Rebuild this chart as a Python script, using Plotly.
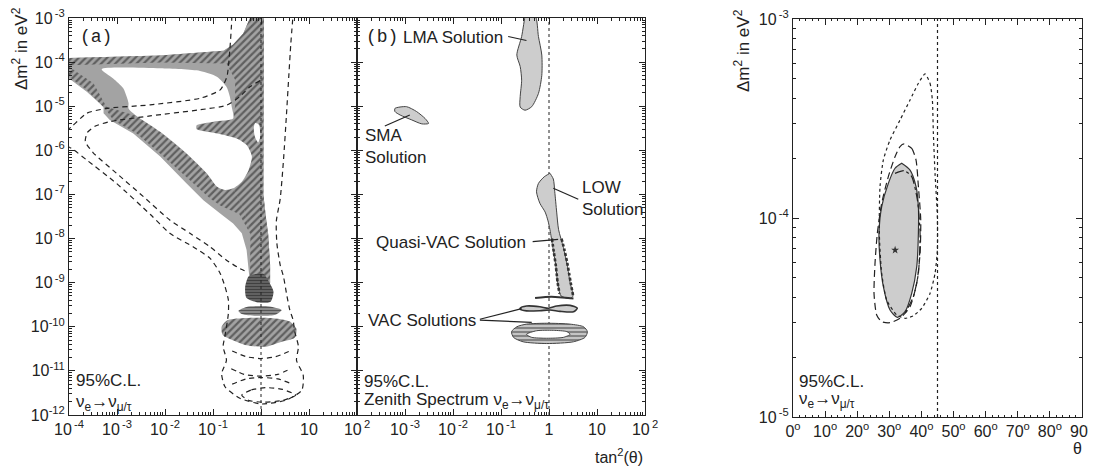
import plotly.graph_objects as go

# ---------------- DATA (log10 of tan^2(theta), log10 of dm^2) ----------------
# Panel (a): combined region (grey), hatched parts, white hole, dashed contours
A_GRAY_LX = [-4.05, -2.10, -0.78, -0.58, -0.37, -0.19, 0.06, 0.06, 0.05, 0.10, 0.15, 0.19, 0.19,
             -0.23, -0.26, -0.30, -0.40, -0.58, -0.85, -1.20, -1.55, -2.10, -2.66, -3.15, -3.28,
             -3.28, -3.63, -4.05]
A_GRAY_LY = [-3.91, -3.85, -3.74, -3.60, -3.35, -2.9, -2.9, -5.0, -7.0, -7.5, -7.9, -8.6, -9.0,
             -9.0, -8.64, -8.26, -7.88, -7.66, -7.43, -7.13, -6.75, -6.14, -5.62, -5.31, -5.16,
             -5.01, -4.67, -4.33]

A_HATCH1_LX = [-4.05, -2.10, -0.78, -0.58, -0.37, -0.19, 0.06, 0.06, 0.05, 0.10, 0.15, 0.19, 0.19,
               -0.23, -0.22, -0.35, -0.58, -0.40, -0.26, -0.19, -0.30, -0.51, -0.99, -1.34, -1.34,
               -0.99, -0.58, -0.54, -0.54, -0.72, -2.10, -3.35, -4.05]
A_HATCH1_LY = [-3.91, -3.85, -3.74, -3.60, -3.35, -2.9, -2.9, -5.0, -7.0, -7.5, -7.9, -8.6, -9.0,
               -9.0, -7.9, -7.35, -6.86, -6.71, -6.45, -6.14, -5.88, -5.73, -5.60, -5.52, -5.43,
               -5.35, -5.28, -5.0, -4.4, -4.03, -4.01, -4.04, -4.07]

A_HATCH2_LX = [-4.05, -3.49, -3.22, -2.80, -2.59, -2.10, -1.55, -1.13, -0.92, -0.75, -0.58, -0.35,
               -0.22, -0.45, -0.85, -1.06, -1.48, -2.03, -2.59, -3.08, -3.22, -3.63, -4.05]
A_HATCH2_LY = [-4.07, -4.48, -5.01, -5.16, -5.22, -5.58, -6.07, -6.52, -6.82, -6.90, -6.86, -7.35,
               -7.9, -7.45, -7.25, -7.09, -6.67, -6.14, -5.62, -5.31, -5.09, -4.63, -4.29]

A_HOLE_LX = [-3.32, -2.10, -1.27, -0.92, -0.72, -0.65, -0.61, -0.58, -0.99, -1.34, -1.34, -0.99,
             -0.51, -0.30, -0.19, -0.26, -0.40, -0.58, -0.75, -0.92, -1.13, -1.55, -2.10, -2.59,
             -2.76, -2.76, -2.80, -2.87, -3.08]
A_HOLE_LY = [-4.16, -4.14, -4.20, -4.33, -4.56, -4.78, -5.01, -5.28, -5.35, -5.43, -5.52, -5.60,
             -5.73, -5.88, -6.14, -6.45, -6.71, -6.86, -6.90, -6.82, -6.52, -6.07, -5.58, -5.22,
             -5.05, -4.93, -4.78, -4.59, -4.37]

A_NOTCH_LX = [-0.12, -0.04, -0.02, -0.06, -0.13, -0.15]
A_NOTCH_LY = [-5.38, -5.42, -5.72, -5.82, -5.68, -5.48]

A_BLOB1_LX = [-0.25, 0.05, 0.15, 0.26, 0.20, -0.05, -0.30, -0.33]
A_BLOB1_LY = [-8.85, -8.80, -8.95, -9.20, -9.43, -9.45, -9.35, -9.10]
A_BLOB2_LX = [-0.47, -0.30, 0.10, 0.43, 0.30, -0.10, -0.40]
A_BLOB2_LY = [-9.64, -9.55, -9.53, -9.62, -9.73, -9.75, -9.71]
A_BLOB3_LX = [-0.82, -0.70, -0.30, 0.20, 0.60, 0.74, 0.70, 0.40, 0.10, -0.30, -0.60, -0.80]
A_BLOB3_LY = [-10.0, -9.85, -9.80, -9.80, -9.88, -10.05, -10.25, -10.35, -10.45, -10.42, -10.30, -10.18]

A_DASH1_LX = [-4.05, -3.94, -3.63, -3.22, -2.31, -1.27, -0.85, -0.71, -0.65, -0.61, -0.61]
A_DASH1_LY = [-5.55, -5.46, -5.16, -5.05, -4.97, -4.82, -4.63, -4.33, -3.73, -3.05, -2.9]

A_DASH2_LX = [-0.02, -0.23, -0.44, -0.72, -1.27, -2.31, -3.15, -3.45, -3.62, -3.66, -3.50, -3.01,
              -2.45, -1.90, -1.48, -1.06, -0.72, -0.44, -0.30]
A_DASH2_LY = [-4.42, -4.56, -4.78, -4.98, -5.08, -5.22, -5.35, -5.45, -5.60, -5.80, -6.05, -6.52,
              -7.05, -7.58, -7.88, -8.19, -8.49, -8.68, -8.75]

A_DASH3_LX = [-4.05, -3.94, -3.63, -3.01, -2.31, -1.90, -1.41, -1.06, -0.85, -0.75, -0.68, -0.68,
              -0.75, -0.79, -0.72, -0.82, -0.75, -0.44, 0.01, 0.53, 0.85, 0.88, 0.74, 0.78, 0.70,
              0.67, 0.60, 0.53, 0.47, 0.40, 0.33, 0.32, 0.40, 0.47, 0.53, 0.58, 0.62, 0.67]
A_DASH3_LY = [-5.90, -5.96, -6.22, -6.75, -7.45, -7.88, -8.19, -8.45, -8.79, -9.09, -9.39, -9.70,
              -10.2, -10.45, -10.76, -11.06, -11.36, -11.62, -11.75, -11.66, -11.44, -11.10, -10.76,
              -10.45, -10.10, -9.85, -9.62, -9.24, -8.87, -8.60, -8.10, -7.60, -7.10, -6.20, -5.20,
              -4.30, -3.60, -2.9]

A_RING1_LX = [-0.40, -0.20, 0.10, 0.45, 0.72, 0.45, 0.05, -0.25, -0.40]
A_RING1_LY = [-11.55, -11.43, -11.38, -11.42, -11.55, -11.67, -11.71, -11.67, -11.55]
A_ARC1_LX = [-0.62, -0.35, 0.0, 0.35, 0.62]
A_ARC1_LY = [-10.95, -11.08, -11.12, -11.08, -10.95]
A_ARC2_LX = [-0.60, -0.30, 0.0, 0.35, 0.65]
A_ARC2_LY = [-11.30, -11.18, -11.15, -11.18, -11.30]
A_ARC3_LX = [-0.60, -0.30, 0.0, 0.30, 0.60]
A_ARC3_LY = [-10.55, -10.68, -10.72, -10.68, -10.55]

# Panel (b): allowed solutions
B_LMA_LX = [-0.50, -0.29, -0.22, -0.15, -0.15, -0.22, -0.36, -0.50, -0.60, -0.60, -0.57, -0.60,
            -0.67, -0.57, -0.50]
B_LMA_LY = [-2.95, -2.95, -3.42, -3.84, -4.30, -4.71, -5.01, -5.09, -5.02, -4.78, -4.41, -4.10,
            -3.84, -3.42, -2.95]
B_SMA_LX = [-3.21, -2.97, -2.76, -2.58, -2.51, -2.65, -2.86, -3.10, -3.21]
B_SMA_LY = [-5.05, -5.01, -5.12, -5.28, -5.39, -5.40, -5.31, -5.20, -5.12]
B_LOW_LX = [0.02, 0.09, 0.12, 0.16, 0.20, 0.30, 0.38, 0.44, 0.50, 0.45, 0.25, 0.18, 0.14, 0.08,
            0.02, -0.02, -0.08, -0.19, -0.26, -0.22, -0.10, 0.02]
B_LOW_LY = [-6.52, -6.65, -6.94, -7.40, -7.80, -8.20, -8.60, -9.00, -9.30, -9.36, -9.30, -9.00,
            -8.60, -8.20, -7.80, -7.60, -7.40, -7.20, -6.94, -6.75, -6.60, -6.52]
B_LOWEDGE_L_LX = [0.06, 0.10, 0.14, 0.16, 0.18, 0.22]
B_LOWEDGE_L_LY = [-8.0, -8.3, -8.6, -8.8, -9.0, -9.25]
B_LOWEDGE_R_LX = [0.26, 0.32, 0.38, 0.42, 0.46, 0.50]
B_LOWEDGE_R_LY = [-8.0, -8.25, -8.55, -8.8, -9.05, -9.28]
B_VACLINE_LX = [-0.29, 0.05, 0.51]
B_VACLINE_LY = [-9.35, -9.32, -9.36]
B_VAC1_LX = [-0.60, -0.47, -0.19, -0.01, 0.16, 0.44, 0.59, 0.51, 0.23, 0.02, -0.19, -0.47, -0.60]
B_VAC1_LY = [-9.58, -9.53, -9.545, -9.58, -9.53, -9.515, -9.58, -9.66, -9.65, -9.62, -9.636,
             -9.64, -9.605]
B_VAC2_LX = [-0.78, -0.67, -0.47, -0.05, 0.44, 0.72, 0.80, 0.75, 0.51, -0.05, -0.54, -0.74]
B_VAC2_LY = [-10.11, -10.0, -9.94, -9.92, -9.94, -10.0, -10.11, -10.24, -10.34, -10.38, -10.34, -10.24]
B_VAC2_HOLE_LX = [-0.47, -0.26, 0.09, 0.37, 0.44, 0.30, -0.05, -0.36]
B_VAC2_HOLE_LY = [-10.17, -10.09, -10.08, -10.11, -10.17, -10.24, -10.26, -10.24]

# leader lines in panel (b): [x0, x1], [y0, y1]
B_LEADERS = {
    "LMA": ([-0.85, -0.47], [-3.42, -3.51]),
    "SMA": ([-3.42, -2.90], [-5.45, -5.20]),
    "LOW": ([0.09, 0.61], [-6.86, -7.11]),
    "QVAC": ([-0.34, 0.19], [-8.07, -8.02]),
    "VAC1": ([-1.44, -0.57], [-9.83, -9.59]),
    "VAC2": ([-1.44, -0.36], [-9.85, -9.90]),
}

# Panel (c): theta in degrees, log10 dm^2
C_FILL_TH = [33.85, 36.45, 38.32, 39.05, 39.05, 38.53, 36.97, 34.89, 32.50, 30.21, 28.14, 27.10,
             26.78, 27.62, 29.69, 31.77, 33.85]
C_FILL_LY = [-3.725, -3.759, -3.842, -3.943, -4.077, -4.245, -4.379, -4.471, -4.499, -4.462, -4.345,
             -4.211, -4.077, -3.943, -3.826, -3.750, -3.725]
C_DASH_TH = [34.58, 36.97, 38.32, 39.05, 39.78, 39.57, 38.53, 36.45, 33.33, 30.21, 27.62, 26.06,
             25.23, 25.54, 26.26, 27.62, 29.69, 31.77, 33.33, 34.58]
C_DASH_LY = [-3.628, -3.650, -3.709, -3.842, -4.010, -4.178, -4.328, -4.446, -4.504, -4.526, -4.521,
             -4.487, -4.379, -4.228, -4.077, -3.926, -3.792, -3.692, -3.641, -3.628]
C_DOT_TH = [41.11, 42.67, 43.40, 43.71, 44.23, 44.96, 44.96, 44.23, 42.67, 40.07, 37.49, 34.89,
            32.29, 29.17, 27.62, 26.88, 27.10, 28.14, 30.21, 33.32, 36.45, 39.05, 41.11]
C_DOT_LY = [-3.276, -3.323, -3.407, -3.574, -3.776, -3.993, -4.161, -4.278, -4.379, -4.454, -4.491,
            -4.504, -4.487, -4.412, -4.278, -4.077, -3.842, -3.708, -3.608, -3.508, -3.407, -3.323,
            -3.276]
C_DASHDOT_TH = [31.77, 34.58, 36.97, 38.74, 39.57, 39.05, 37.49, 34.89]
C_DASHDOT_LY = [-3.776, -3.762, -3.792, -3.909, -4.077, -4.278, -4.395, -4.479]
C_BEST_TH = [31.8]
C_BEST_DM2 = [6.9e-5]

TAN2_ONE = 1.0
THETA_MAX_MIX = 45.0

# tick labels
LOGX_TICKVALS = [1e-4, 1e-3, 1e-2, 1e-1, 1, 10, 100]
LOGX_TICKTEXT_A = ["10<sup>\u2009-4</sup>", "10<sup>\u2009-3</sup>", "10<sup>\u2009-2</sup>",
                   "10<sup>\u2009-1</sup>", "1", "10", "10<sup>\u20092</sup>"]
LOGX_TICKTEXT_B = ["", "10<sup>\u2009-3</sup>", "10<sup>\u2009-2</sup>", "10<sup>\u2009-1</sup>",
                   "1", "10", "10<sup>\u20092</sup>"]
LOGY_TICKVALS = [10.0 ** e for e in range(-12, -2)]
LOGY_TICKTEXT = ["10<sup>-12</sup>", "10<sup>-11</sup>", "10<sup>-10</sup>", "10<sup>\u2009-9</sup>",
                 "10<sup>\u2009-8</sup>", "10<sup>\u2009-7</sup>", "10<sup>\u2009-6</sup>",
                 "10<sup>\u2009-5</sup>", "10<sup>\u2009-4</sup>", "10<sup>\u2009-3</sup>"]
C_Y_TICKVALS = [1e-5, 1e-4, 1e-3]
C_Y_TICKTEXT = ["10<sup>\u2009-5</sup>", "10<sup>\u2009-4</sup>", "10<sup>\u2009-3</sup>"]
C_X_TICKVALS = [0, 10, 20, 30, 40, 50, 60, 70, 80, 90]
C_X_TICKTEXT = [f"{v}<sup>o</sup>" for v in C_X_TICKVALS]

# ---------------- FIGURE ----------------
FONT = "Liberation Sans, Arial, sans-serif"
MONO = "Liberation Mono"
INK = "#222222"


def pw(v):
    return [10.0 ** t for t in v]


fig = go.Figure()


def poly(lx, ly, xa, ya, fill, line_color=None, lw=0, pattern=None, smooth=False, logx=True):
    xs = pw(lx) if logx else list(lx)
    kw = dict(x=xs + [xs[0]], y=pw(ly) + [10.0 ** ly[0]], mode="lines", fill="toself",
              fillcolor=fill, xaxis=xa, yaxis=ya, hoverinfo="skip",
              line=dict(color=line_color or fill, width=lw,
                        shape="spline" if smooth else "linear", smoothing=0.7))
    if pattern:
        kw["fillpattern"] = pattern
    fig.add_trace(go.Scatter(**kw))


def curve(lx, ly, xa, ya, dash, width=1.2, color=INK, smooth=True, logx=True):
    xs = pw(lx) if logx else list(lx)
    fig.add_trace(go.Scatter(x=xs, y=pw(ly), mode="lines", xaxis=xa, yaxis=ya, hoverinfo="skip",
                             line=dict(color=color, width=width, dash=dash,
                                       shape="spline" if smooth else "linear", smoothing=0.6)))


GREY = "#a3a3a3"
HATCH = dict(shape="/", fgcolor="#1c1c1c", bgcolor=GREY, size=5, solidity=0.45)

# panel (a)
poly(A_GRAY_LX, A_GRAY_LY, "x", "y", GREY)
poly(A_HATCH1_LX, A_HATCH1_LY, "x", "y", GREY, pattern=HATCH)
poly(A_HATCH2_LX, A_HATCH2_LY, "x", "y", GREY, pattern=HATCH)
poly(A_HOLE_LX, A_HOLE_LY, "x", "y", "#ffffff", smooth=True)
poly(A_NOTCH_LX, A_NOTCH_LY, "x", "y", "#ffffff", smooth=True)
poly(A_BLOB3_LX, A_BLOB3_LY, "x", "y", GREY, smooth=True, pattern=HATCH)
poly(A_BLOB2_LX, A_BLOB2_LY, "x", "y", "#555555", smooth=True,
     pattern=dict(shape="-", fgcolor="#111111", bgcolor="#9a9a9a", size=3, solidity=0.5))
poly(A_BLOB1_LX, A_BLOB1_LY, "x", "y", "#222222", smooth=True,
     pattern=dict(shape="-", fgcolor="#0a0a0a", bgcolor="#777777", size=3, solidity=0.6))
DASH = "5px,4px"
curve(A_DASH1_LX, A_DASH1_LY, "x", "y", DASH)
curve(A_DASH2_LX, A_DASH2_LY, "x", "y", DASH)
curve(A_DASH3_LX, A_DASH3_LY, "x", "y", DASH)
curve(A_RING1_LX, A_RING1_LY, "x", "y", DASH)
curve(A_ARC1_LX, A_ARC1_LY, "x", "y", DASH)
curve(A_ARC2_LX, A_ARC2_LY, "x", "y", DASH)
curve(A_ARC3_LX, A_ARC3_LY, "x", "y", DASH)
fig.add_trace(go.Scatter(x=[TAN2_ONE, TAN2_ONE], y=[1e-12, 1e-3], mode="lines", xaxis="x", yaxis="y",
                         line=dict(color=INK, width=1, dash="dot"), hoverinfo="skip"))

# panel (b)
LIGHT = "#cdcdcd"
fig.add_trace(go.Scatter(x=[TAN2_ONE, TAN2_ONE], y=[1e-12, 1e-3], mode="lines", xaxis="x2", yaxis="y2",
                         line=dict(color=INK, width=1, dash="dot"), hoverinfo="skip"))
poly(B_LMA_LX, B_LMA_LY, "x2", "y2", LIGHT, line_color="#444", lw=1, smooth=True)
poly(B_SMA_LX, B_SMA_LY, "x2", "y2", LIGHT, line_color="#444", lw=1, smooth=True)
poly(B_LOW_LX, B_LOW_LY, "x2", "y2", LIGHT, line_color="#444", lw=1, smooth=True)
curve(B_LOWEDGE_L_LX, B_LOWEDGE_L_LY, "x2", "y2", "3px,2px", width=2.6, color="#333")
curve(B_LOWEDGE_R_LX, B_LOWEDGE_R_LY, "x2", "y2", "3px,2px", width=2.6, color="#333")
curve(B_VACLINE_LX, B_VACLINE_LY, "x2", "y2", "solid", width=2, color="#333")
poly(B_VAC1_LX, B_VAC1_LY, "x2", "y2", LIGHT, line_color="#333", lw=1.6, smooth=True)
poly(B_VAC2_LX, B_VAC2_LY, "x2", "y2", "#bdbdbd", line_color="#444", lw=1, smooth=True,
     pattern=dict(shape="-", fgcolor="#333333", bgcolor="#c4c4c4", size=4, solidity=0.45))
poly(B_VAC2_HOLE_LX, B_VAC2_HOLE_LY, "x2", "y2", "#ffffff", line_color="#444", lw=1, smooth=True)
for key, (lx, ly) in B_LEADERS.items():
    curve(lx, ly, "x2", "y2", "solid", width=1.2, smooth=False)

# panel (c)
fig.add_trace(go.Scatter(x=[THETA_MAX_MIX, THETA_MAX_MIX], y=[1e-5, 1e-3], mode="lines", xaxis="x3",
                         yaxis="y3", line=dict(color=INK, width=1.2, dash="dot"), hoverinfo="skip"))
poly(C_FILL_TH, C_FILL_LY, "x3", "y3", LIGHT, line_color="#333", lw=1.2, smooth=True, logx=False)
curve(C_DOT_TH, C_DOT_LY, "x3", "y3", "dot", width=1.2, logx=False)
curve(C_DASH_TH, C_DASH_LY, "x3", "y3", "7px,4px", width=1.2, logx=False)
curve(C_DASHDOT_TH, C_DASHDOT_LY, "x3", "y3", "dashdot", width=1.2, logx=False)
fig.add_trace(go.Scatter(x=C_BEST_TH, y=C_BEST_DM2, mode="markers", xaxis="x3", yaxis="y3",
                         marker=dict(symbol="star", size=6, color="#333"), hoverinfo="skip"))

# ---------------- LAYOUT ----------------
# the page body has an 8 px default margin, so the figure is 8 px smaller and positions shift by 8
OFF = 8
W, H = 1096 - OFF, 467 - OFF


def dx(p0, p1):
    return ((p0 - OFF) / W, (p1 - OFF) / W)


def dy(top, bottom):
    return (1 - (bottom - OFF) / H, 1 - (top - OFF) / H)


def px(p):
    return (p - OFF) / W


def py(p):
    return 1 - (p - OFF) / H


log_minor = []
for e in range(-12, 2):
    for m in range(2, 10):
        log_minor.append(m * 10.0 ** e)

common = dict(showline=True, linecolor=INK, linewidth=1, mirror="allticks", ticks="inside",
              ticklen=6, tickwidth=1, tickcolor=INK, showgrid=False, zeroline=False,
              automargin=False, ticklabeloverflow="allow",
              tickfont=dict(family=FONT, size=16, color=INK))
log_min = dict(tickmode="array", tickvals=log_minor, ticks="inside", ticklen=3, tickcolor=INK,
               showgrid=False)

fig.update_layout(
    width=W, height=H, margin=dict(l=0, r=0, t=0, b=0, autoexpand=False),
    paper_bgcolor="white", plot_bgcolor="white", showlegend=False,
    xaxis=dict(type="log", range=[-4, 2], domain=dx(69, 357), anchor="y", tickmode="array",
               tickvals=LOGX_TICKVALS, ticktext=LOGX_TICKTEXT_A, minor=log_min, **common),
    yaxis=dict(type="log", range=[-12, -3], domain=dy(18, 415), anchor="x", tickmode="array",
               tickvals=LOGY_TICKVALS, ticktext=LOGY_TICKTEXT, minor=log_min, **common),
    xaxis2=dict(type="log", range=[-4, 2], domain=dx(357, 645), anchor="y2", tickmode="array",
                tickvals=LOGX_TICKVALS, ticktext=LOGX_TICKTEXT_B, minor=log_min, **common),
    yaxis2=dict(type="log", range=[-12, -3], domain=dy(18, 415), anchor="x2", tickmode="array",
                tickvals=LOGY_TICKVALS, showticklabels=False, minor=log_min, **common),
    xaxis3=dict(range=[0, 90], domain=dx(793, 1082), anchor="y3", tickmode="array",
                tickvals=C_X_TICKVALS, ticktext=C_X_TICKTEXT,
                minor=dict(dtick=2, ticks="inside", ticklen=2, tickcolor=INK, showgrid=False),
                **common),
    yaxis3=dict(type="log", range=[-5, -3], domain=dy(19, 417), anchor="x3", tickmode="array",
                tickvals=C_Y_TICKVALS, ticktext=C_Y_TICKTEXT, minor=log_min, **common),
)

NU = "\u03bd<sub>e</sub>\u2192\u03bd<sub>\u03bc/\u03c4</sub>"
ann = []


def txt(text, x, y, xref, yref, size=17, xanchor="left", yanchor="middle", family=FONT, angle=0):
    ann.append(dict(text=text, x=x, y=y, xref=xref, yref=yref, showarrow=False, xanchor=xanchor,
                    yanchor=yanchor, textangle=angle, align="left", borderpad=0,
                    font=dict(family=family, size=size, color=INK)))


txt("(a)", -3.80, -3.43, "x", "y", size=18, family=MONO)
txt("95%C.L.", -3.88, -11.21, "x", "y")
txt(NU, -3.88, -11.72, "x", "y")
txt("(b)", -3.83, -3.44, "x2", "y2", size=18, family=MONO)
txt("LMA Solution", -3.07, -3.44, "x2", "y2")
txt("SMA<br>Solution", -3.86, -5.92, "x2", "y2")
txt("LOW<br>Solution", 0.67, -7.10, "x2", "y2")
txt("Quasi-VAC Solution", -3.63, -8.09, "x2", "y2")
txt("VAC Solutions", -3.80, -9.85, "x2", "y2")
txt("95%C.L.", -3.88, -11.24, "x2", "y2")
txt("Zenith Spectrum " + NU, -3.88, -11.68, "x2", "y2")
txt("95%C.L.", 1.4, -4.82, "x3", "y3")
txt(NU, 1.4, -4.915, "x3", "y3")
txt("\u0394m<sup>2</sup> in eV<sup>2</sup>", px(20), py(49), "paper", "paper", angle=-90,
    xanchor="center")
txt("\u0394m<sup>2</sup> in eV<sup>2</sup>", px(742), py(51), "paper", "paper", angle=-90,
    xanchor="center")
txt("tan<sup>2</sup>(\u03b8)", px(644), py(456), "paper", "paper", size=16, xanchor="right")
txt("\u03b8", px(1083), py(448), "paper", "paper", size=16, xanchor="right")
fig.update_layout(annotations=ann)

fig.write_html("out.html")
